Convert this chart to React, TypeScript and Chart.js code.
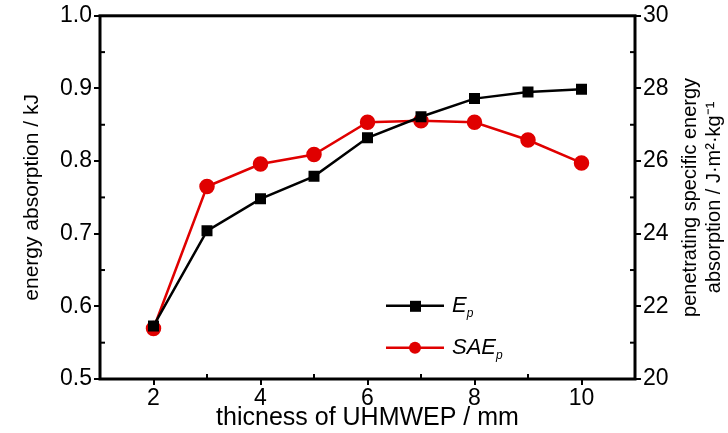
import React, { useEffect, useRef } from "react";
import { Chart, registerables } from "chart.js";
Chart.register(...registerables);

const thickness = [2, 3, 4, 5, 6, 7, 8, 9, 10];
const epValues = [0.573, 0.704, 0.748, 0.779, 0.832, 0.861, 0.886, 0.895, 0.899];
const saeValues = [21.39, 25.3, 25.92, 26.18, 27.07, 27.11, 27.07, 26.58, 25.95];
const xTicks = [2, 4, 6, 8, 10];

const FONT = "'Liberation Sans Narrow', 'Liberation Sans', Arial, sans-serif";

const framePlugin = {
  id: "frame",
  afterDraw(chart: any) {
    const { ctx, chartArea: a, scales } = chart;
    ctx.save();
    ctx.strokeStyle = "#000";
    ctx.lineWidth = 3;
    ctx.strokeRect(a.left, a.top, a.right - a.left, a.bottom - a.top);
    ctx.lineWidth = 2;
    const y = scales.y, y2 = scales.y2, x = scales.x;
    for (let v = 0.55; v < 1; v += 0.1) {
      const p = y.getPixelForValue(v);
      ctx.beginPath(); ctx.moveTo(a.left, p); ctx.lineTo(a.left + 5, p); ctx.stroke();
    }
    for (let v = 21; v < 30; v += 2) {
      const p = y2.getPixelForValue(v);
      ctx.beginPath(); ctx.moveTo(a.right, p); ctx.lineTo(a.right - 5, p); ctx.stroke();
    }
    for (let v = 3; v <= 9; v += 2) {
      const p = x.getPixelForValue(v);
      ctx.beginPath(); ctx.moveTo(p, a.bottom); ctx.lineTo(p, a.bottom - 5); ctx.stroke();
    }
    // right axis title, reading bottom-to-top
    ctx.save();
    ctx.fillStyle = "#000";
    ctx.font = "20px " + FONT;
    ctx.textAlign = "center";
    ctx.textBaseline = "middle";
    const cy = (a.top + a.bottom) / 2;
    ctx.translate(a.right + 55, cy);
    ctx.rotate(-Math.PI / 2);
    ctx.fillText("penetrating specific energy", 0, 0);
    ctx.fillText("absorption / J·m²·kg⁻¹", 0, 24);
    ctx.restore();
    // legend
    const items = [
      { color: "#000", label: "E", sub: "p", marker: "rect", y: a.top + 290 },
      { color: "#e00000", label: "SAE", sub: "p", marker: "circle", y: a.top + 332 },
    ];
    const lx = a.left + 286;
    items.forEach((it) => {
      ctx.strokeStyle = it.color; ctx.fillStyle = it.color; ctx.lineWidth = 2.5;
      ctx.beginPath(); ctx.moveTo(lx, it.y); ctx.lineTo(lx + 58, it.y); ctx.stroke();
      if (it.marker === "rect") ctx.fillRect(lx + 24, it.y - 5, 11, 11);
      else { ctx.beginPath(); ctx.arc(lx + 29, it.y, 6, 0, Math.PI * 2); ctx.fill(); }
      ctx.fillStyle = "#000";
      ctx.font = "italic 22px " + FONT;
      ctx.textBaseline = "middle";
      ctx.fillText(it.label, lx + 66, it.y);
      const w = ctx.measureText(it.label).width;
      ctx.font = "italic 12px " + FONT;
      ctx.fillText(it.sub, lx + 66 + w, it.y + 8);
    });
    ctx.restore();
  },
};

export default function App() {
  const ref = useRef<HTMLCanvasElement>(null);
  useEffect(() => {
    const chart = new Chart(ref.current!, {
      type: "line",
      data: {
        datasets: [
          {
            data: thickness.map((t, i) => ({ x: t, y: epValues[i] })),
            borderColor: "#000", backgroundColor: "#000", borderWidth: 2.5,
            pointStyle: "rect", pointRadius: 6, yAxisID: "y",
          },
          {
            data: thickness.map((t, i) => ({ x: t, y: saeValues[i] })),
            borderColor: "#e00000", backgroundColor: "#e00000", borderWidth: 2.5,
            pointStyle: "circle", pointRadius: 6.5, yAxisID: "y2",
          },
        ],
      },
      options: {
        animation: false, responsive: false,
        layout: { padding: { top: 11, right: 0 } },
        plugins: { legend: { display: false }, tooltip: { enabled: false } },
        scales: {
          x: {
            type: "linear", min: 1, max: 11,
            afterBuildTicks: (s: any) => { s.ticks = xTicks.map((v) => ({ value: v })); },
            afterFit: (s: any) => { s.height = 54; },
            grid: { drawOnChartArea: false, color: "#000", tickLength: 6, lineWidth: 2 },
            border: { display: false },
            ticks: { color: "#000", font: { family: FONT, size: 23 }, padding: 0 },
            title: { display: true, text: "thicness of UHMWEP / mm", color: "#000", font: { family: FONT, size: 25 }, padding: 0 },
          },
          y: {
            position: "left", min: 0.5, max: 1.0,
            afterFit: (s: any) => { s.width = 100; },
            grid: { drawOnChartArea: false, color: "#000", tickLength: 6, lineWidth: 2 },
            border: { display: false },
            ticks: { stepSize: 0.1, color: "#000", font: { family: FONT, size: 23 }, padding: 2, callback: (v: any) => Number(v).toFixed(1) },
            title: { display: true, text: "energy absorption / kJ", color: "#000", font: { family: FONT, size: 21 }, padding: { top: 20, bottom: 4 } },
          },
          y2: {
            position: "right", min: 20, max: 30,
            afterFit: (s: any) => { s.width = 93; },
            grid: { drawOnChartArea: false, color: "#000", tickLength: 6, lineWidth: 2 },
            border: { display: false },
            ticks: { stepSize: 2, color: "#000", font: { family: FONT, size: 23 }, padding: 2 },
          },
        },
      },
      plugins: [framePlugin],
    } as any);
    return () => chart.destroy();
  }, []);
  return (
    <div style={{ position: "fixed", left: 0, top: 0, width: 728, height: 433, background: "#fff" }}>
      <canvas ref={ref} width={728} height={433} />
    </div>
  );
}
